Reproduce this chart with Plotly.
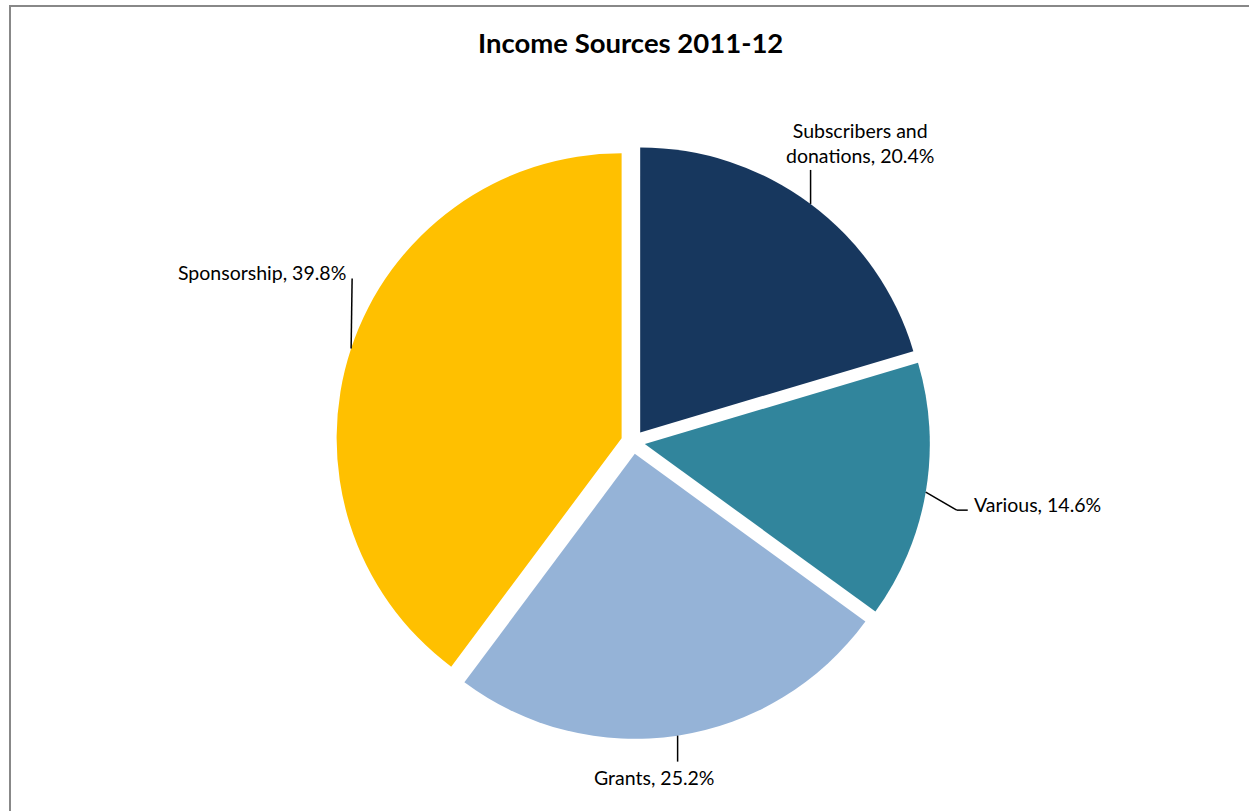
import math
import plotly.graph_objects as go

# ---- data ----
categories = ["Subscribers and donations", "Various", "Grants", "Sponsorship"]
shares = [20.4, 14.6, 25.2, 39.8]
label_lines = [["Subscribers and", "donations, 20.4%"], ["Various, 14.6%"],
               ["Grants, 25.2%"], ["Sponsorship, 39.8%"]]
colors = ["#17375E", "#31859C", "#95B3D7", "#FFC000"]
title_text = "Income Sources 2011-12"

# ---- layout geometry (pixels) ----
W, H = 1249, 811
CX, CY = 633, 442          # pie centre
R = 285                    # pie radius
PULL_PX = 12               # explode distance
pull = PULL_PX / R
half = R * (1 + pull)

FONT = "Lato"
LABEL_SIZE = 19.5
TITLE_SIZE = 27.5

# leader-line segments (offsets from slice edge) and label placement per slice
leader_offsets = [[(0, -34)], [(31, 18), (42, 18)], [(0, 26)], [(1, -70)]]
label_place = [  # dx, dy from leader end, xanchor, yanchor
    (49, -1, "center", "bottom"),
    (4, -6, "left", "middle"),
    (-24, 16, "center", "middle"),
    (-4, -6, "right", "middle"),
]


def px(x):
    return x / W


def py(y):
    return 1 - y / H


fig = go.Figure(go.Pie(
    labels=categories,
    values=shares,
    sort=False,
    direction="clockwise",
    rotation=0,
    pull=[pull] * len(shares),
    marker=dict(colors=colors, line=dict(width=0)),
    textinfo="none",
    hoverinfo="label+percent",
    showlegend=False,
    domain=dict(x=[px(CX - half), px(CX + half)],
                y=[py(CY + half), py(CY - half)]),
))

shapes = []
annotations = []
total = sum(shares)
cum = 0.0
for i, v in enumerate(shares):
    mid = (cum + v / 2) / total * 2 * math.pi
    cum += v
    dx, dy = math.sin(mid), -math.cos(mid)
    ex, ey = CX + (R + PULL_PX) * dx, CY + (R + PULL_PX) * dy
    pts = [(ex, ey)] + [(ex + ox, ey + oy) for ox, oy in leader_offsets[i]]
    for (x0, y0), (x1, y1) in zip(pts[:-1], pts[1:]):
        shapes.append(dict(type="line", xref="paper", yref="paper",
                           x0=px(x0), y0=py(y0), x1=px(x1), y1=py(y1),
                           line=dict(color="black", width=1.5)))
    lx, ly = pts[-1]
    ddx, ddy, xa, ya = label_place[i]
    annotations.append(dict(
        text="<br>".join(label_lines[i]), xref="paper", yref="paper",
        x=px(lx + ddx), y=py(ly + ddy), xanchor=xa, yanchor=ya,
        showarrow=False, align="center",
        font=dict(family=FONT, size=LABEL_SIZE, color="black")))

annotations.append(dict(
    text="<b>" + title_text + "</b>", xref="paper", yref="paper",
    x=px(630), y=py(43), xanchor="center", yanchor="middle",
    showarrow=False, font=dict(family=FONT, size=TITLE_SIZE, color="black")))

# chart frame
shapes.append(dict(type="rect", xref="paper", yref="paper",
                   x0=px(10), x1=1.02, y0=-0.02, y1=py(6),
                   line=dict(color="#888888", width=2)))

fig.update_layout(
    width=W, height=H,
    margin=dict(l=0, r=0, t=0, b=0),
    paper_bgcolor="white", plot_bgcolor="white",
    shapes=shapes, annotations=annotations,
)

fig.write_html("out.html")
